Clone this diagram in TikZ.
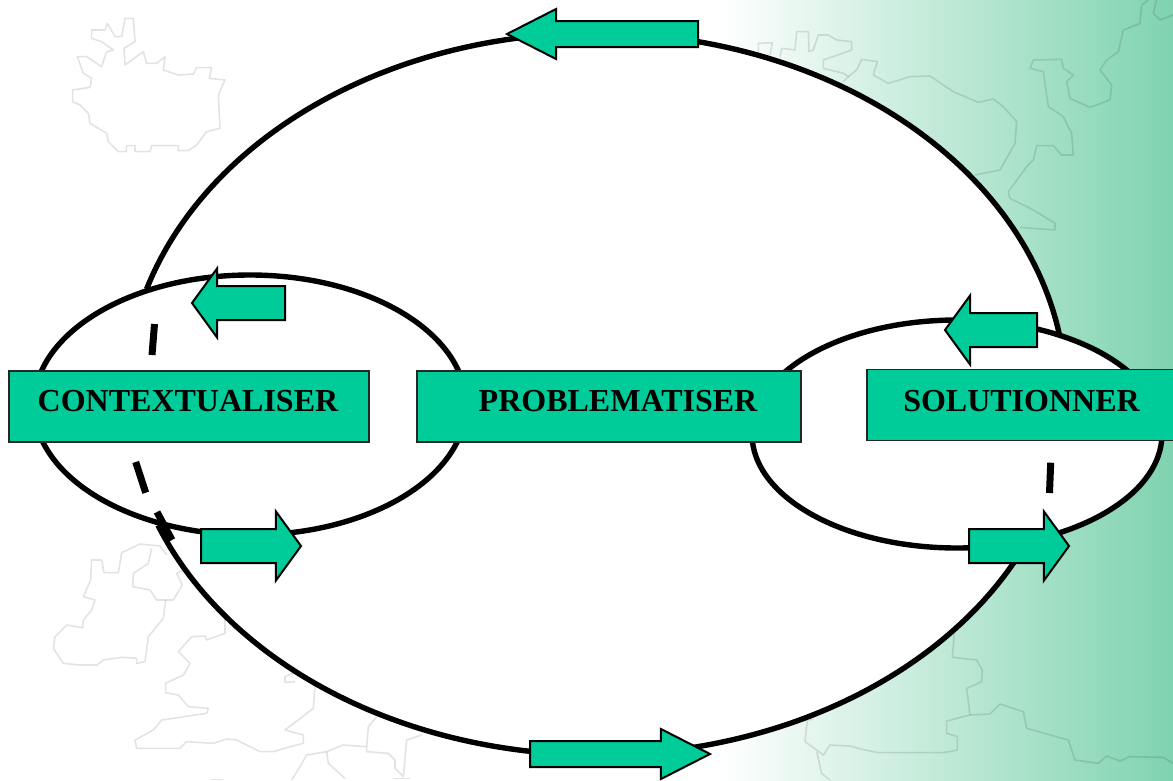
\documentclass[tikz,border=0pt]{standalone}
\usepackage{fontspec}
\setmainfont{Liberation Serif}
\usetikzlibrary{shapes}
\definecolor{boxgreen}{HTML}{00CC99}
\definecolor{edgegreen}{HTML}{7FD3AF}
\tikzset{
	mapline/.style={draw=black,draw opacity=0.11,line width=1.6pt,line join=round},
	loopline/.style={draw=black,line width=5.4pt},
	loopdash/.style={draw=black,line width=7pt},
	loopnode/.style={ellipse,loopline,fill=white,inner sep=0,outer sep=0},
	stagebox/.style={draw=black!85,line width=1.5pt,fill=boxgreen,inner xsep=0,inner ysep=0,outer sep=0,
		text height=40pt,text depth=31pt,font=\bfseries\fontsize{32}{36}\selectfont},
	arrowbox/.style={single arrow,anchor=tip,draw=black,line width=2pt,fill=boxgreen,inner sep=0,outer sep=0,text depth=0pt,single arrow head indent=0pt},
	bigarrow/.style={arrowbox,text height=24pt,minimum width=48pt,single arrow head extend=12pt,single arrow tip angle=54},
	smallarrow/.style={arrowbox,text height=32pt,minimum width=67pt,single arrow head extend=17.5pt,single arrow tip angle=108}
}
\begin{document}
\begin{tikzpicture}[x=1pt,y=-1pt]
\useasboundingbox (0,0) rectangle (1173,780);
\shade[left color=white,right color=edgegreen] (720,0) rectangle (1173,780);
\begin{scope}[scale=1/3]
\draw[mapline] (375,55)--(400,55)--(405,125)--(372,145)--(375,195)--(430,155)--(440,190)--(470,190)--(495,170)--(490,210)--(535,225)--(580,222)--(590,203)--(635,203)--(628,235)--(675,240)--(655,285)--(660,385)--(620,395)--(590,435)--(565,452)--(535,452)--(535,437)--(455,437)--(450,455)--(405,455)--(405,437)--(380,437)--(378,455)--(355,455)--(325,425)--(320,400)--(270,370)--(265,340)--(240,315)--(218,305)--(218,270)--(270,262)--(275,235)--(250,220)--(232,170)--(260,170)--(305,200)--(320,155)--(340,150)--(305,125)--(275,115)--(275,90)--(315,90)--(322,70)--(345,110)--(365,110)--cycle;
\end{scope}
\begin{scope}[shift={(0,530)},scale=1/3]
\draw[mapline] (500,75)--(480,48)--(420,42)--(365,68)--(355,128)--(312,128)--(305,90)--(275,90)--(272,150)--(250,200)--(285,210)--(275,240)--(250,270)--(248,293)--(200,285)--(165,320)--(160,355)--(190,400)--(240,405)--(290,405)--(310,390)--(365,382)--(410,385)--(410,400)--(435,395)--(445,320)--(490,265)--(497,210);
\draw[mapline] (455,55)--(445,100)--(400,130)--(398,170)--(450,180)--(470,210)--(520,210)--(547,165)--(530,130)--(550,120);
\draw[mapline] (675,265)--(675,310)--(620,330)--(615,318)--(575,320)--(535,365)--(570,400)--(550,435)--(497,460)--(497,488)--(535,495)--(565,530)--(625,535)--(620,550)--(485,570)--(460,600)--(405,630)--(410,655)--(540,655)--(560,635)--(640,640)--(680,627)--(710,630)--(780,665)--(820,665)--(870,650)--(910,640)--(910,615)--(855,600)--(940,535)--(945,470);
\draw[mapline] (890,425)--(855,440)--(855,457)--(885,455);
\draw[mapline] (875,750)--(900,710)--(920,675)--(980,665)--(1030,645)--(1100,650)--(1105,590)--(1130,560);
\draw[mapline] (1100,650)--(1100,665)--(1165,670)--(1185,690)--(1185,715)--(1210,740)--(1220,630)--(1265,615);
\draw[mapline] (980,665)--(985,700)--(1035,745);
\draw[mapline] (630,748)--(670,748);
\draw[mapline] (1180,746)--(1230,746);
\end{scope}
\begin{scope}[shift={(740,0)},scale=1/3]
\draw[mapline] (55,165)--(55,130)--(97,128)--(90,165);
\draw[mapline] (120,170)--(125,145)--(165,150)--(170,95)--(205,95)--(207,155)--(220,150)--(235,105)--(265,105)--(290,120)--(335,125)--(335,150)--(250,180)--(250,205)--(310,220)--(325,230)--(310,245);
\draw[mapline] (325,230)--(350,210)--(365,178)--(412,185)--(400,225)--(445,250)--(510,230)--(570,228)--(640,275)--(715,307)--(760,297)--(790,320)--(830,365)--(825,430)--(780,510)--(705,525);
\draw[mapline] (1225,0)--(1205,15)--(1200,70)--(1150,90)--(1135,155)--(1100,180)--(1080,210)--(1115,255)--(1110,300)--(1050,322)--(990,295)--(980,245)--(1000,225)--(970,205)--(965,178)--(880,180)--(870,205)--(910,215)--(925,320)--(970,350)--(995,400)--(1000,465)--(965,465)--(940,437)--(890,437)--(880,480)--(860,500)--(805,575)--(810,595)--(880,630)--(945,670)--(945,690)--(840,682);
\draw[mapline] (1250,0)--(1240,40)--(1260,60)--(1299,45);
\end{scope}
\begin{scope}[shift={(720,560)},scale=1/3]
\draw[mapline] (703,220)--(697,292)--(770,300)--(787,330)--(785,365)--(740,385)--(750,465)--(680,483)--(680,520)--(712,530)--(712,570)--(670,578)--(475,578)--(435,570)--(390,558)--(330,555)--(310,585)--(290,570)--(255,545)--(262,480)--(280,478);
\draw[mapline] (290,575)--(305,640)--(330,660);
\draw[mapline] (750,465)--(810,462)--(840,432)--(910,455)--(920,505)--(1045,540)--(1065,600)--(1135,610)--(1160,588)--(1200,603)--(1230,590)--(1330,592)--(1359,610);
\end{scope}
\node[ellipse,fill=white,inner sep=0,outer sep=0,minimum width=940pt,minimum height=722pt] (bigloop) at (596.5,394.5) {};
\draw[loopline] plot[domain=197:350.5,samples=120] ({596+470*cos(\x)},{395+362*sin(\x)});
\draw[loopline] plot[domain=27.3:158.8,samples=120] ({597+471*cos(\x)},{395+360*sin(\x)});
\node[loopnode,minimum width=432pt,minimum height=260pt] (leftloop) at (250,405) {};
\node[loopnode,minimum width=410pt,minimum height=228pt] (rightloop) at (957,434) {};
\draw[loopdash] (154.5,324)--(152,355);
\draw[loopdash] (135.7,462)--(145.7,492.7);
\draw[loopdash] (157,512)--(172,540);
\draw[loopdash] (1050.7,462.7)--(1049.5,493);
\node[stagebox,minimum width=360pt] (context) at (189,406.5) {\hspace*{-2pt}CONTEXTUALISER};
\node[stagebox,minimum width=384pt] (problem) at (609,406.5) {\hspace*{18pt}PROBLEMATISER};
\node[stagebox,minimum width=309pt,text height=42pt,text depth=29pt] (solution) at (1021.5,405) {SOLUTIONNER};
\node[bigarrow,minimum height=191pt,rotate=180] (toparrow) at (507,34) {};
\node[bigarrow,minimum height=180pt] (bottomarrow) at (710,754) {};
\node[smallarrow,minimum height=93pt,rotate=180] (leftup) at (192,303) {};
\node[smallarrow,minimum height=92pt,rotate=180] (rightup) at (945,330) {};
\node[smallarrow,minimum height=100pt] (leftdown) at (301,546) {};
\node[smallarrow,minimum height=100pt] (rightdown) at (1069,546) {};
\end{tikzpicture}
\end{document}
